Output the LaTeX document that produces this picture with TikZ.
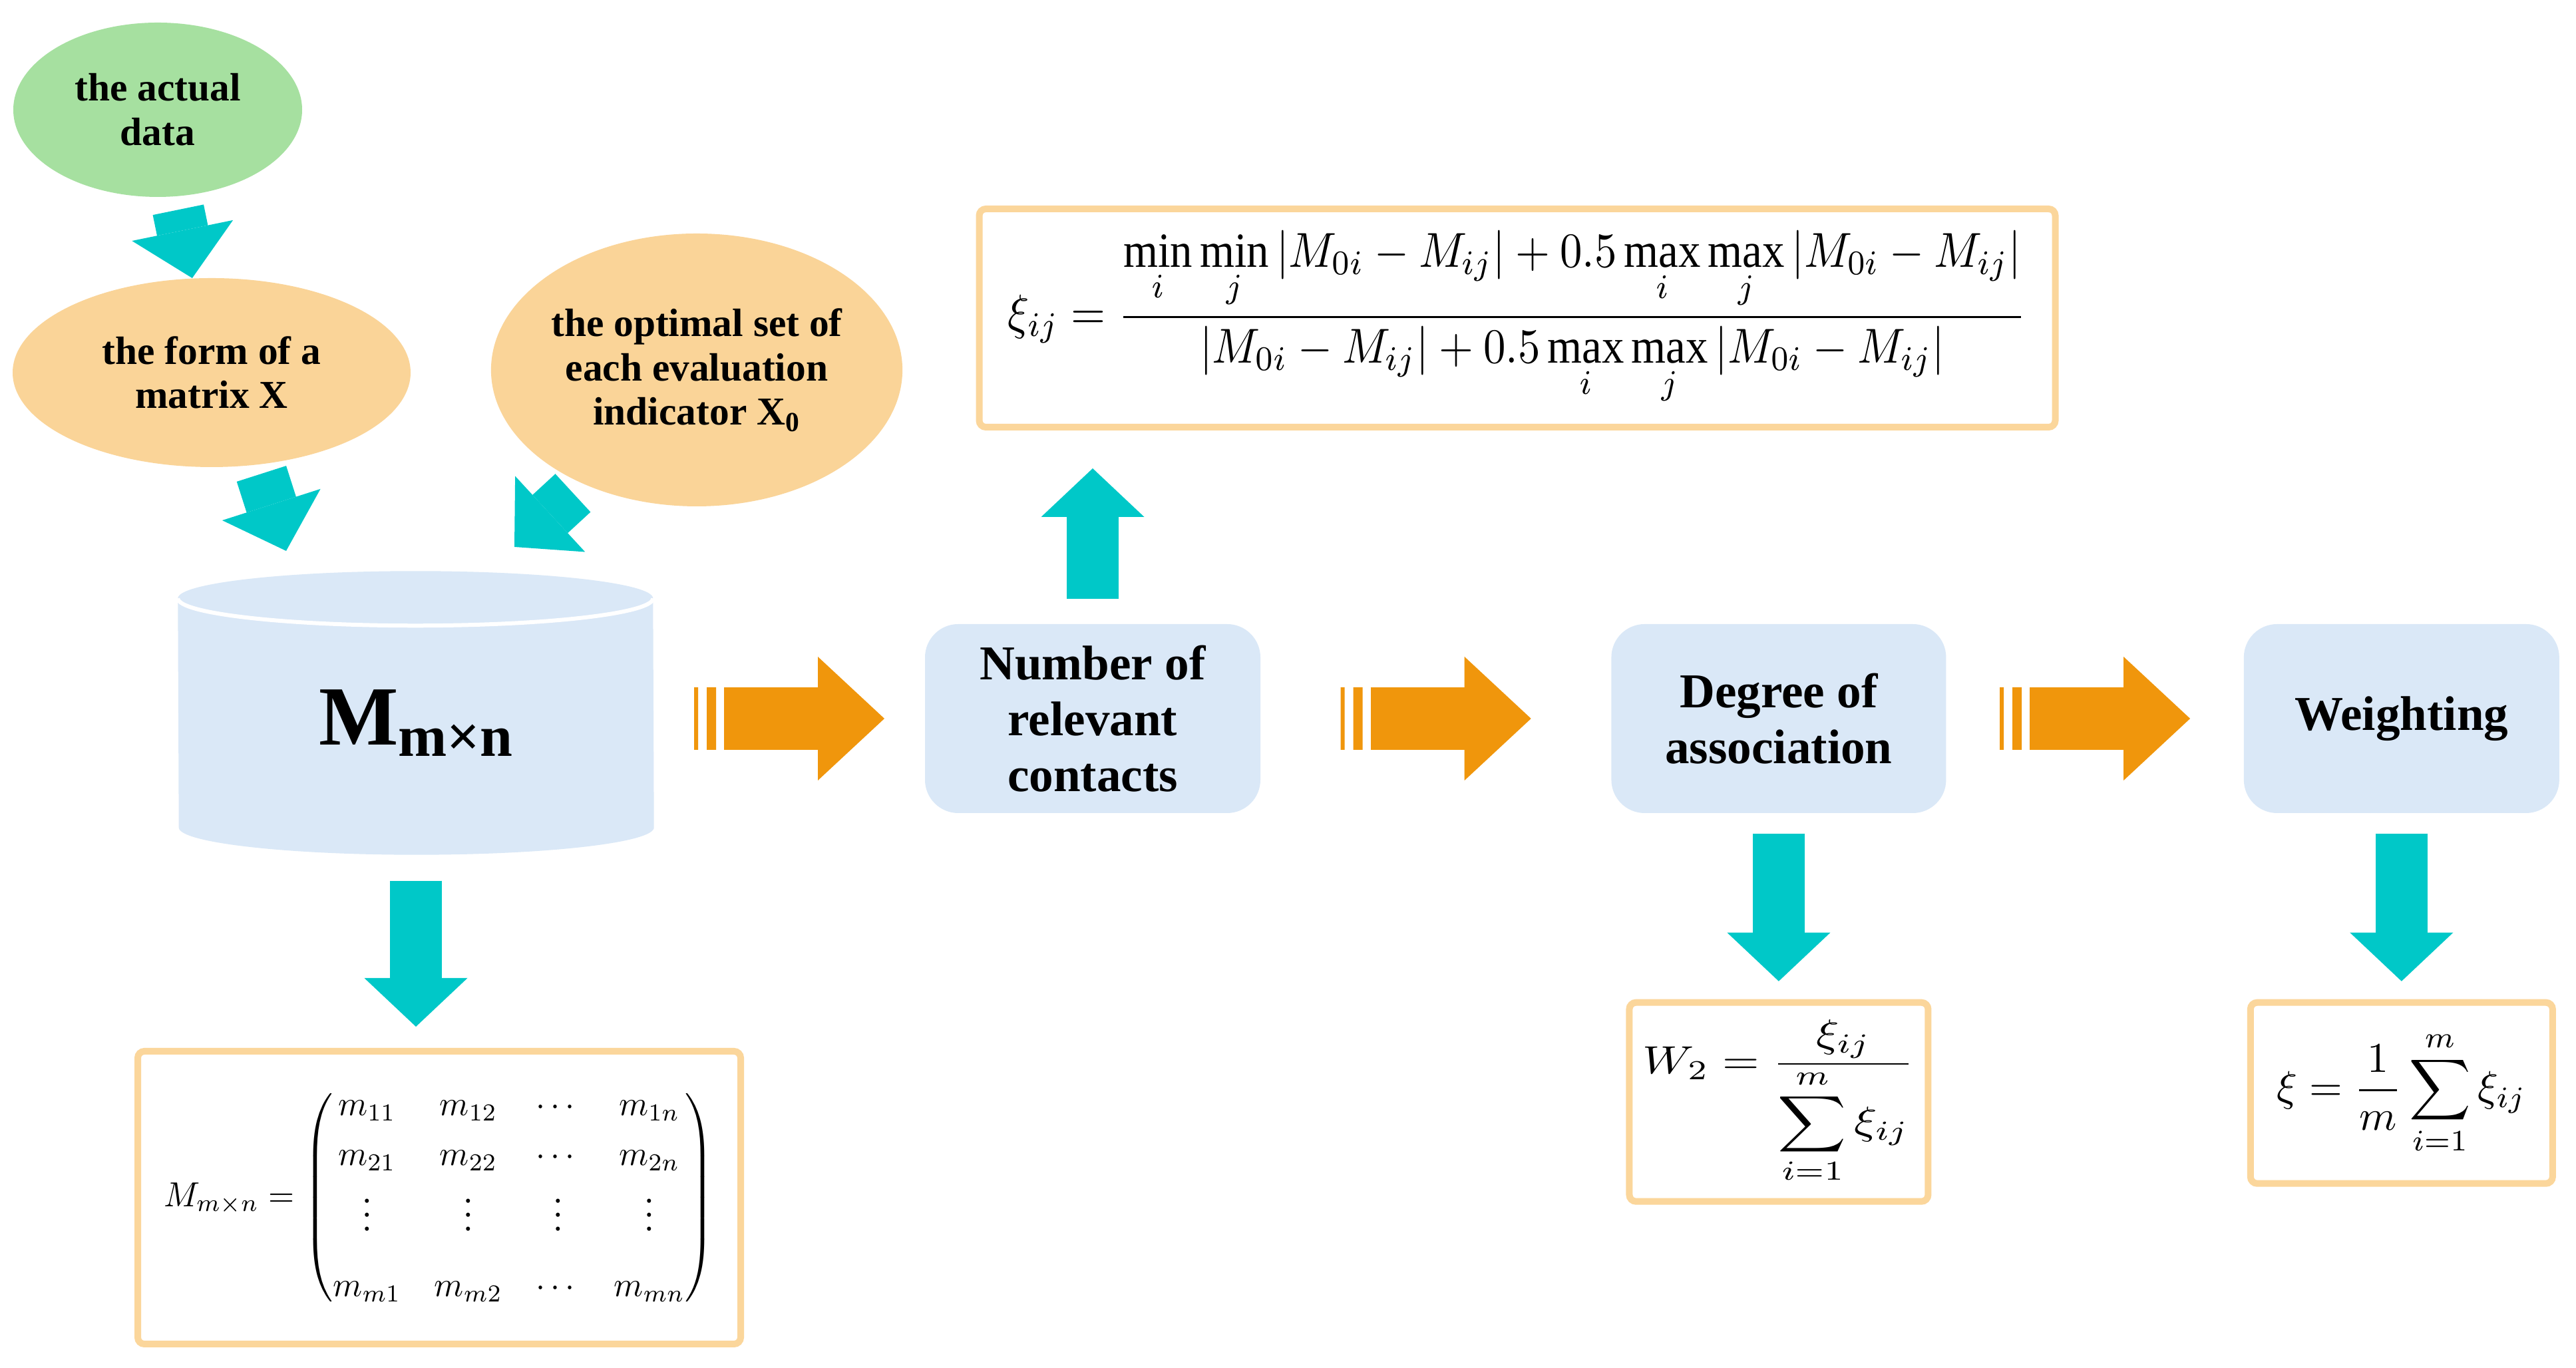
\documentclass[tikz,border=0pt]{standalone}
\usepackage{amsmath}
\usepackage{graphicx}
\usepackage{fontspec}
\setmainfont{Liberation Serif}
\usetikzlibrary{positioning,calc,shapes.geometric,arrows.meta}

\definecolor{leafgreen}{RGB}{166,224,160}
\definecolor{peach}{RGB}{250,212,152}
\definecolor{paleblue}{RGB}{218,232,247}
\definecolor{aqua}{RGB}{0,200,200}
\definecolor{amber}{RGB}{240,150,12}
\definecolor{frameorange}{RGB}{251,214,155}

\begin{document}
\begin{tikzpicture}[every node/.style={font=\bfseries, align=center, inner sep=0pt},
	blob/.style={ellipse, fill=peach, font=\fontsize{16.9}{19}\selectfont\bfseries},
	stage/.style={rectangle, rounded corners=5mm, fill=paleblue, minimum height=2.84cm, font=\fontsize{20.8}{23.9}\selectfont\bfseries},
	formbox/.style={rectangle, rounded corners=1mm, draw=frameorange, line width=1mm, fill=white, font=\normalfont},
	feed/.style={aqua, line width=7.8mm, -{Triangle[length=7.3mm, width=15.5mm, line width=0pt]}},
	flowarrow/.style={amber, line width=9.4mm, -{Triangle[length=10mm, width=18.6mm, line width=0pt]}},
	node distance=5.26cm]
	\useasboundingbox (0,0) rectangle (38.71,20.56);
	\fill[white] (0,0) rectangle (38.71,20.56);

	% inputs
	\node[blob, fill=leafgreen, minimum width=4.34cm, minimum height=2.62cm] (actual) at (2.37,18.91) {the actual\\data};
	\node[blob, minimum width=5.98cm, minimum height=2.84cm] (form) at (3.18,14.96) {the form of a\\matrix X};
	\node[blob, minimum width=5.98cm, minimum height=4.10cm] (opt) at (10.47,15.00) {the optimal set of\\each evaluation\\indicator X\textsubscript{0}};

	% the data cylinder
	\node[minimum width=7.14cm, minimum height=4.25cm] (cyl) at (6.25,9.845) {};
	\fill[paleblue] ([yshift=-4.1mm]cyl.north west) arc[start angle=180, end angle=0, x radius=3.57cm, y radius=4.1mm]
		-- ([yshift=4.1mm]cyl.south east) arc[start angle=0, end angle=-180, x radius=3.57cm, y radius=4.1mm] -- cycle;
	\draw[white, line width=0.6mm] ([yshift=-4.1mm]cyl.north west) arc[start angle=180, end angle=360, x radius=3.57cm, y radius=4.1mm];
	\node (mxn) at ([yshift=-1.5mm]cyl.center) {{\fontsize{36}{40}\selectfont M}\raisebox{-1.7mm}{\fontsize{25}{28}\selectfont m×n}};

	% steps
	\node[stage, minimum width=5.04cm] (num) at (16.42,9.76) {Number of\\relevant\\contacts};
	\node[stage, minimum width=5.03cm, right=of num] (deg) {Degree of\\association};
	\node[stage, minimum width=4.74cm, right=4.46cm of deg] (wgt) {Weighting};

	% formulas
	\node[formbox, minimum width=16.17cm, minimum height=3.28cm] (rel) at (22.80,15.78)
		{\resizebox*{15.3cm}{2.64cm}{$\displaystyle \xi_{ij}=\frac{\min\limits_{i}\min\limits_{j}\left|M_{0i}-M_{ij}\right|+0.5\max\limits_{i}\max\limits_{j}\left|M_{0i}-M_{ij}\right|}{\left|M_{0i}-M_{ij}\right|+0.5\max\limits_{i}\max\limits_{j}\left|M_{0i}-M_{ij}\right|}$}};
	\node[formbox, minimum width=9.06cm, minimum height=4.40cm] (mat) at (6.60,2.56)
		{\resizebox*{8.27cm}{3.34cm}{$M_{m\times n}=\begin{pmatrix} m_{11} & m_{12} & \cdots & m_{1n}\\[0.5ex] m_{21} & m_{22} & \cdots & m_{2n}\\ \vdots & \vdots & \vdots & \vdots\\[1.5ex] m_{m1} & m_{m2} & \cdots & m_{mn}\end{pmatrix}$}};
	\node[formbox, minimum width=4.49cm, minimum height=2.99cm, below=2.79cm of deg] (w2)
		{\resizebox*{4.08cm}{2.47cm}{$\displaystyle W_2=\frac{\displaystyle\xi_{ij}}{\displaystyle\sum_{i=1}^{m}\xi_{ij}}$}};
	\node[formbox, minimum width=4.54cm, minimum height=2.72cm, below=2.79cm of wgt] (xi)
		{\resizebox*{3.75cm}{1.87cm}{$\displaystyle \xi=\frac{1}{m}\sum_{i=1}^{m}\xi_{ij}$}};

	% cyan connectors
	\coordinate (hitA) at (4.30,12.28);
	\coordinate (hitB) at (7.73,12.34);
	\draw[feed, shorten <=2mm] (actual) -- (form);
	\draw[feed, shorten <=1.4mm] (form.297) -- (hitA);
	\draw[feed, shorten <=2mm] (opt.225) -- (hitB);
	\draw[feed, shorten <=3.9mm, shorten >=3.2mm] (cyl.south) -- (cyl.south |- mat.north);
	\draw[feed, shorten <=3.7mm, shorten >=5.7mm] (num.north) -- (num.north |- rel.south);
	\draw[feed, shorten <=3mm, shorten >=2.7mm] (deg.south) -- (w2.north);
	\draw[feed, shorten <=3mm, shorten >=2.7mm] (wgt.south) -- (xi.north);

	% striped arrows between the steps
	\foreach \a/\b in {cyl/num, num/deg, deg/wgt} {
		\path (\a.east |- \b.west) -- coordinate (gap) (\b.west);
		\fill[amber] ($(gap)+(-1.43,-0.47)$) rectangle ++(0.06,0.94)
			($(gap)+(-1.24,-0.47)$) rectangle ++(0.14,0.94);
		\draw[flowarrow] ($(gap)+(-0.98,0)$) -- ($(gap)+(1.43,0)$);
	}
\end{tikzpicture}
\end{document}
